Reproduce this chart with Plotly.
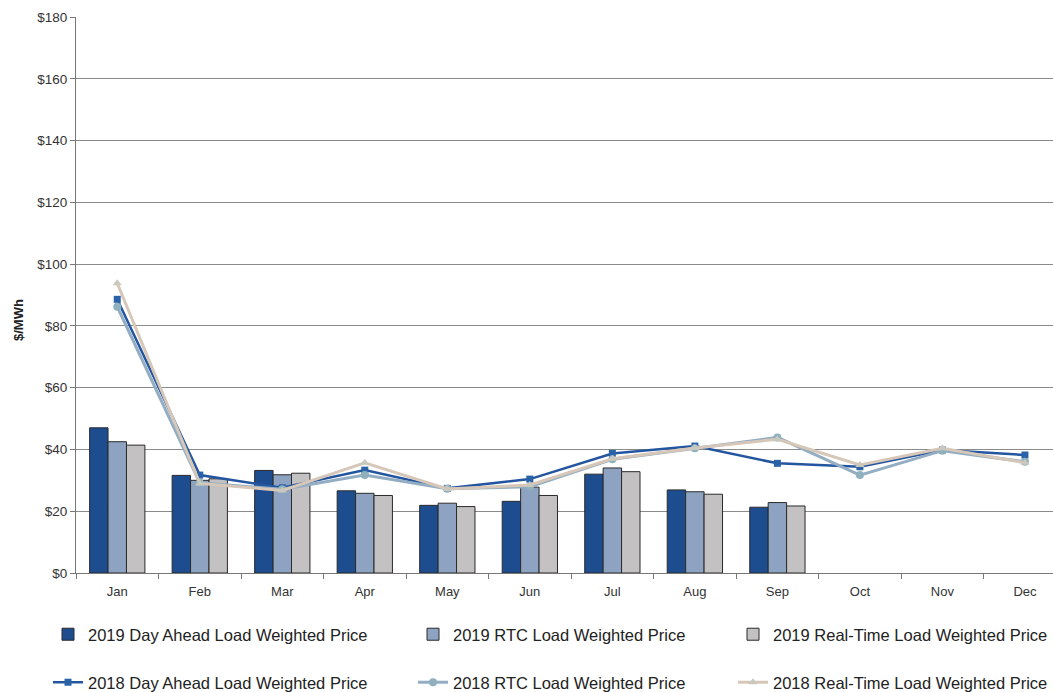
import plotly.graph_objects as go

months = ["Jan", "Feb", "Mar", "Apr", "May", "Jun", "Jul", "Aug", "Sep", "Oct", "Nov", "Dec"]

# 2019 monthly load weighted prices ($/MWh), January through September
da_2019 = [47.0, 31.6, 33.2, 26.6, 21.9, 23.2, 32.0, 26.9, 21.3]
rtc_2019 = [42.5, 30.0, 31.8, 25.8, 22.6, 27.8, 34.0, 26.3, 22.8]
rt_2019 = [41.4, 30.5, 32.3, 25.1, 21.5, 25.1, 32.8, 25.5, 21.7]

# 2018 monthly load weighted prices ($/MWh)
da_2018 = [88.6, 31.7, 27.6, 33.3, 27.4, 30.4, 38.7, 41.1, 35.5, 34.4, 39.8, 38.2]
rtc_2018 = [86.2, 29.2, 27.1, 31.7, 27.3, 27.9, 36.8, 40.4, 43.9, 31.7, 39.6, 36.0]
rt_2018 = [93.8, 29.0, 26.7, 35.7, 27.2, 28.5, 37.0, 40.5, 43.3, 35.0, 40.4, 35.7]

y_ticks = [0, 20, 40, 60, 80, 100, 120, 140, 160, 180]
y_tick_text = ["$" + str(v) for v in y_ticks]

FONT = "Liberation Sans, Arial, sans-serif"
outline = dict(color="#2a2a2a", width=1)

fig = go.Figure()

# 2019 bars; each series gets its own legend box so the key can be laid out as a 3x2 grid
fig.add_trace(go.Bar(x=months[:len(da_2019)], y=da_2019, name="2019 Day Ahead Load Weighted Price",
                     marker=dict(color="#1d4c8f", line=outline), legend="legend"))
fig.add_trace(go.Bar(x=months[:len(rtc_2019)], y=rtc_2019, name="2019 RTC Load Weighted Price",
                     marker=dict(color="#8ea3c2", line=outline), legend="legend2"))
fig.add_trace(go.Bar(x=months[:len(rt_2019)], y=rt_2019, name="2019 Real-Time Load Weighted Price",
                     marker=dict(color="#c3c1c1", line=outline), legend="legend3"))

# 2018 lines
fig.add_trace(go.Scatter(x=months, y=da_2018, name="2018 Day Ahead Load Weighted Price",
                         mode="lines+markers", line=dict(color="#2456a0", width=2.5),
                         marker=dict(symbol="square", size=7, color="#2a62a8"), legend="legend4"))
fig.add_trace(go.Scatter(x=months, y=rtc_2018, name="2018 RTC Load Weighted Price",
                         mode="lines+markers", line=dict(color="#93adc2", width=3),
                         marker=dict(symbol="circle", size=8, color="#8fb0bd"), legend="legend5"))
fig.add_trace(go.Scatter(x=months, y=rt_2018, name="2018 Real-Time Load Weighted Price",
                         mode="lines+markers", line=dict(color="#d6c7b8", width=3),
                         marker=dict(symbol="triangle-up", size=8, color="#c8c8be"), legend="legend6"))

legend_common = dict(
    orientation="v", xref="container", yref="container", yanchor="top", xanchor="left",
    font=dict(family=FONT, size=16.5, color="#222222"),
    bgcolor="rgba(0,0,0,0)", itemwidth=30,
)
row1_y = 1 - 617 / 692
row2_y = 1 - 665 / 692
col_x = [48 / 1053, 413 / 1053, 733 / 1053]

fig.update_layout(
    width=1053, height=692,
    margin=dict(l=76, r=0, t=17, b=119, autoexpand=False),
    paper_bgcolor="white", plot_bgcolor="white",
    font=dict(family=FONT, size=13, color="#333333"),
    barmode="group", bargap=0.33, bargroupgap=0,
    showlegend=True,
    legend=dict(legend_common, x=col_x[0], y=row1_y),
    legend2=dict(legend_common, x=col_x[1], y=row1_y),
    legend3=dict(legend_common, x=col_x[2], y=row1_y),
    legend4=dict(legend_common, x=col_x[0], y=row2_y),
    legend5=dict(legend_common, x=col_x[1], y=row2_y),
    legend6=dict(legend_common, x=col_x[2], y=row2_y),
    xaxis=dict(
        range=[-0.5, 11.34], showgrid=False, showline=True, linecolor="#777777", linewidth=1,
        ticks="outside", tickson="boundaries", ticklen=5, tickcolor="#777777",
        tickfont=dict(size=13, color="#333333"), tickangle=0, ticklabelstandoff=6,
    ),
    yaxis=dict(
        range=[0, 180], tickvals=y_ticks, ticktext=y_tick_text,
        showgrid=True, gridcolor="#8a8a8a", gridwidth=1,
        showline=True, linecolor="#777777", linewidth=1,
        ticks="outside", ticklen=5, tickcolor="#777777",
        tickfont=dict(size=13.5, color="#333333"),
        zeroline=False,
    ),
    annotations=[dict(
        text="<b>$/MWh</b>", xref="paper", yref="paper", x=-0.0594, y=0.455,
        xanchor="center", yanchor="middle", textangle=-90, showarrow=False,
        font=dict(family=FONT, size=13, color="#222222"),
    )],
)

fig.write_html("out.html")
